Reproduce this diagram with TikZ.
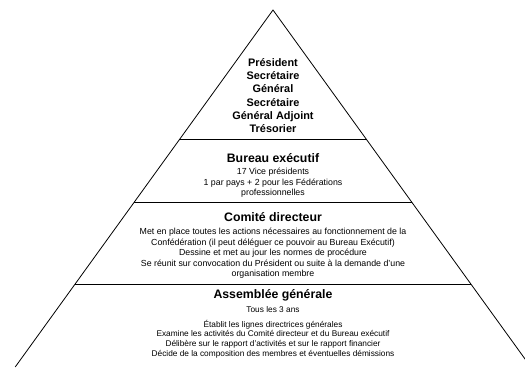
\documentclass[tikz,border=0pt]{standalone}
\usepackage{fontspec}
\setmainfont{Liberation Sans}
\begin{document}
\begin{tikzpicture}[x=1pt,y=-1pt,
  edge/.style={line width=0.8pt,black},
  topbold/.style={inner sep=0pt,align=center,font=\fontsize{10.9}{13.2}\selectfont\bfseries},
  title/.style={inner sep=0pt,align=center,font=\fontsize{12.3}{14}\selectfont\bfseries},
  body/.style={inner sep=0pt,align=center,font=\fontsize{8.8}{10.5}\selectfont},
  bodyb/.style={inner sep=0pt,align=center,font=\fontsize{8.3}{9.7}\selectfont}]
\useasboundingbox (0,0) rectangle (525,367);
\clip (0,0) rectangle (525,367);
% pyramid geometry
\coordinate (apex) at (273,10);
\coordinate (bl) at (15.2,367);
\coordinate (br) at (530.8,367);
\coordinate (l1) at (179.9,139);
\coordinate (r1) at (366.1,139);
\coordinate (l2) at (134.4,202);
\coordinate (r2) at (411.6,202);
\coordinate (l3) at (75.2,284);
\coordinate (r3) at (470.8,284);
\draw[edge] (bl) -- (apex) -- (br);
\draw[edge] (l1) -- (r1);
\draw[edge] (l2) -- (r2);
\draw[edge] (l3) -- (r3);
% texts
\node[topbold] (top) at (273,95.5) {Président\\Secrétaire\\Général\\Secrétaire\\Général Adjoint\\Trésorier};
\node[title] (bt) at (273,158) {Bureau exécutif};
\node[body] (bb) at (273,183) {17 Vice présidents\\1 par pays + 2 pour les Fédérations\\professionnelles};
\node[title] (ct) at (273,217) {Comité directeur};
\node[body] (cb) at (273,253.5) {Met en place toutes les actions nécessaires au fonctionnement de la\\Confédération (il peut déléguer ce pouvoir au Bureau Exécutif)\\Dessine et met au jour les normes de procédure\\Se réunit sur convocation du Président ou suite à la demande d'une\\organisation membre};
\node[title] (at) at (273,295) {Assemblée générale};
\node[bodyb] (an) at (273,310) {Tous les 3 ans};
\node[bodyb] (ab) at (273,339) {Établit les lignes directrices générales\\Examine les activités du Comité directeur et du Bureau exécutif\\Délibère sur le rapport d'activités et sur le rapport financier\\Décide de la composition des membres et éventuelles démissions};
\end{tikzpicture}
\end{document}
